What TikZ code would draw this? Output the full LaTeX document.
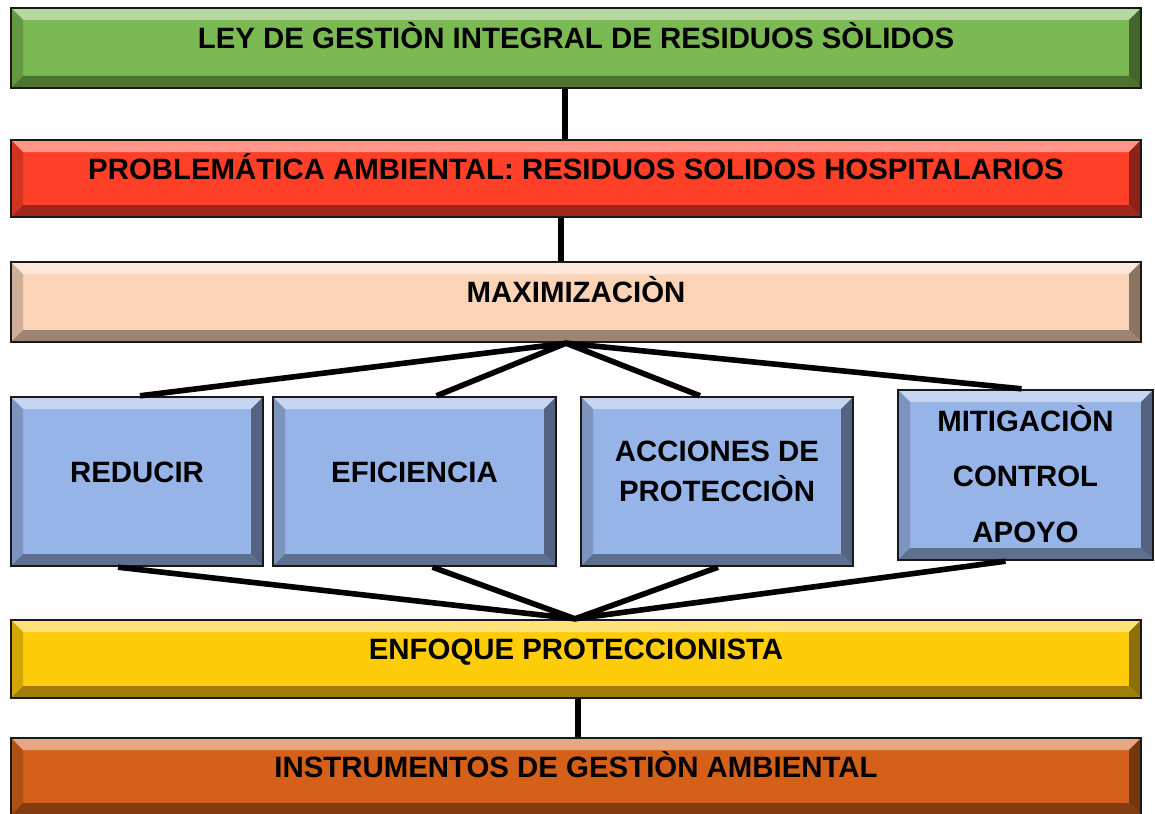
\documentclass[tikz,border=0pt]{standalone}
\usepackage{fontspec}
\usepackage{tikz}
\usetikzlibrary{positioning, calc}
\newfontfamily\arialfont{Liberation Sans}
\definecolor{leygreen}{RGB}{123, 185, 82}
\definecolor{probred}{RGB}{255, 64, 40}
\definecolor{maxpeach}{RGB}{251, 212, 184}
\definecolor{actblue}{RGB}{151, 180, 232}
\definecolor{enfyellow}{RGB}{255, 204, 10}
\definecolor{instorange}{RGB}{212, 96, 26}

\tikzset{
    bevelbox/.style={draw=black!90, line width=1.2pt, fill=#1, inner sep=2pt,
        font=\arialfont\bfseries\fontsize{14.7}{17}\selectfont,
        text height=12pt, text depth=11.5pt,
        path picture={
            % upper, left, right and lower bevel
            \fill[#1!55!white] (path picture bounding box.north west) -- (path picture bounding box.north east)
                -- ([shift={(-6pt,-6pt)}]path picture bounding box.north east) -- ([shift={(6pt,-6pt)}]path picture bounding box.north west) -- cycle;
            \fill[#1!82!black] (path picture bounding box.north west) -- ([shift={(6pt,-6pt)}]path picture bounding box.north west)
                -- ([shift={(6pt,6pt)}]path picture bounding box.south west) -- (path picture bounding box.south west) -- cycle;
            \fill[#1!55!black] (path picture bounding box.north east) -- ([shift={(-6pt,-6pt)}]path picture bounding box.north east)
                -- ([shift={(-6pt,6pt)}]path picture bounding box.south east) -- (path picture bounding box.south east) -- cycle;
            \fill[#1!62!black] (path picture bounding box.south west) -- ([shift={(6pt,6pt)}]path picture bounding box.south west)
                -- ([shift={(-6pt,6pt)}]path picture bounding box.south east) -- (path picture bounding box.south east) -- cycle;
        }},
    widebox/.style={bevelbox=#1, minimum width=565pt},
    smallbox/.style={bevelbox=actblue, minimum height=84.5pt},
    link/.style={line width=2.8pt, line cap=butt, line join=round},
}

\begin{document}
\begin{tikzpicture}[x=0.5pt, y=-0.5pt]
    \useasboundingbox (0,0) rectangle (1155,813);

    \node[widebox=leygreen, minimum height=40pt] (ley) at (576,48) {LEY DE GESTIÒN INTEGRAL DE RESIDUOS SÒLIDOS};
    \node[widebox=probred, minimum height=38.5pt] (problema) at (576,178.5) {PROBLEMÁTICA AMBIENTAL: RESIDUOS SOLIDOS HOSPITALARIOS};
    \node[widebox=maxpeach, minimum height=40pt] (maxim) at (576,302) {MAXIMIZACIÒN};

    \node[smallbox, minimum width=126pt] (reducir) at (137,481.5) {REDUCIR};
    \node[smallbox, minimum width=141.5pt] (efic) at (414.5,481.5) {EFICIENCIA};
    \node[smallbox, minimum width=136pt] (acciones) at (717,481.5)
        {\begin{tabular}{@{}c@{}}ACCIONES DE\\[1.5pt]PROTECCIÒN\end{tabular}};
    \node[smallbox, minimum width=127.5pt, minimum height=85pt, text height=17pt, text depth=6.2pt] (mitig) at (1025.5,475)
        {\begin{tabular}{@{}c@{}}MITIGACIÒN\\[10.75pt]CONTROL\\[10.75pt]APOYO\end{tabular}};

    \node[widebox=enfyellow, minimum height=39pt] (enfoque) at (576,659) {ENFOQUE PROTECCIONISTA};
    \node[widebox=instorange, minimum height=38.5pt] (instr) at (576,776.5) {INSTRUMENTOS DE GESTIÒN AMBIENTAL};

    \coordinate (apexmax) at ([xshift=-5pt]maxim.south);
    \coordinate (apexenf) at ([xshift=-0.5pt]enfoque.north);

    \draw[link] ([xshift=-5.5pt]ley.south) -- ([xshift=-5.5pt]problema.north);
    \draw[link] ([xshift=-7.5pt]problema.south) -- ([xshift=-7.5pt]maxim.north);
    \draw[link] ([xshift=1pt]enfoque.south) -- ([xshift=1pt]instr.north);

    \draw[link] ([xshift=1.5pt]reducir.north) -- (apexmax) -- ([xshift=11pt]efic.north);
    \draw[link] ([xshift=-8.5pt]acciones.north) -- (apexmax) -- ([xshift=-2pt]mitig.north);

    \draw[link] ([xshift=-9.5pt]reducir.south) -- (apexenf) -- ([xshift=9pt]efic.south);
    \draw[link] ([xshift=0.5pt]acciones.south) -- (apexenf) -- ([xshift=-10pt]mitig.south);
\end{tikzpicture}
\end{document}
